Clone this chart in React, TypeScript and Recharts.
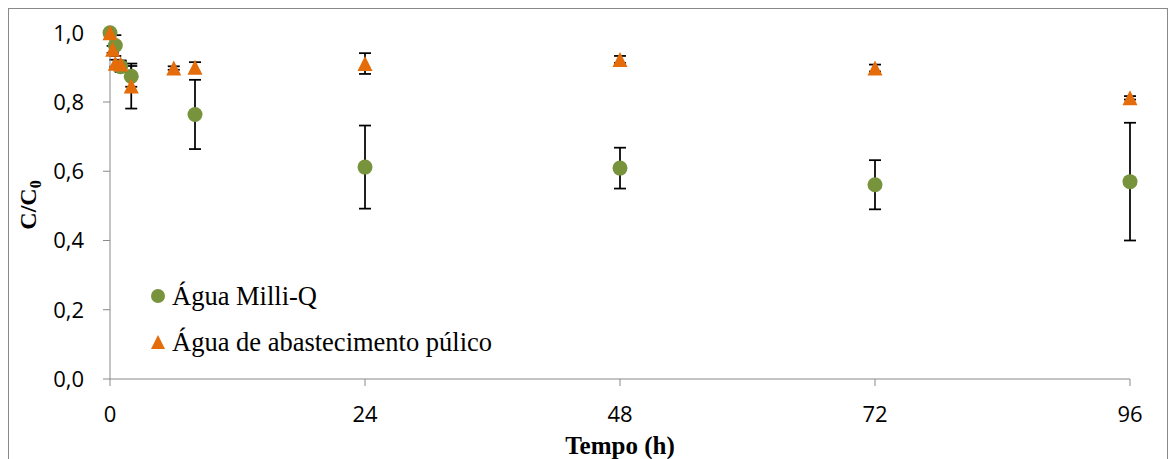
import { ErrorBar, Legend, Scatter, ScatterChart, XAxis, YAxis } from "recharts"

// Água Milli-Q
const tempoMilliQ = [0, 0.5, 1, 2, 8, 24, 48, 72, 96]
const cMilliQ = [1.0, 0.963, 0.902, 0.874, 0.764, 0.612, 0.609, 0.561, 0.57]
const errMilliQ = [0.005, 0.03, 0.015, 0.03, 0.1, 0.12, 0.059, 0.071, 0.17]

// Água de abastecimento público
const tempoAbast = [0, 0.25, 0.5, 1, 2, 6, 8, 24, 48, 72, 96]
const cAbast = [1.0, 0.952, 0.912, 0.91, 0.846, 0.898, 0.9, 0.911, 0.923, 0.898, 0.812]
const errAbast = [0.005, 0.01, 0.01, 0.01, 0.065, 0.005, 0.015, 0.03, 0.01, 0.01, 0.005]

const xTicks = [0, 24, 48, 72, 96]
const yTicks = [0, 0.2, 0.4, 0.6, 0.8, 1.0]

const seriesNames = ["Água Milli-Q", "Água de abastecimento púlico"]

const GREEN = "#77933C"
const ORANGE = "#E46C0A"
const AXIS = "#898989"
const TICK_FONT = "'Open Sans', sans-serif"
const SERIF = "'Liberation Serif', 'Times New Roman', serif"

const milliQ = tempoMilliQ.map((t, i) => ({ t, c: cMilliQ[i], err: errMilliQ[i] }))
const abast = tempoAbast.map((t, i) => ({ t, c: cAbast[i], err: errAbast[i] }))

function Circle(props: any) {
  const { cx, cy } = props
  if (cx == null || cy == null) return null
  return <circle cx={cx} cy={cy} r={7.5} fill={GREEN} />
}

function Triangle(props: any) {
  const { cx, cy } = props
  if (cx == null || cy == null) return null
  const w = 7.5, h = 7.5
  return <path d={`M${cx},${cy - h} L${cx + w},${cy + h} L${cx - w},${cy + h} Z`} fill={ORANGE} />
}

function LegendBox() {
  return (
    <div style={{ fontFamily: SERIF, fontSize: 26.5, color: "#000", whiteSpace: "nowrap" }}>
      <div style={{ display: "flex", alignItems: "center", height: 46 }}>
        <svg width={21} height={16}><circle cx={7} cy={8} r={7} fill={GREEN} /></svg>
        <span>{seriesNames[0]}</span>
      </div>
      <div style={{ display: "flex", alignItems: "center", height: 46 }}>
        <svg width={21} height={16}><path d="M7,1 L14,15 L0,15 Z" fill={ORANGE} /></svg>
        <span>{seriesNames[1]}</span>
      </div>
    </div>
  )
}

function YLabel() {
  return (
    <text x={27} y={196} transform="rotate(-90, 27, 196)" textAnchor="middle" fontFamily={SERIF} fontWeight="bold" fontSize={24} fill="#000">
      C/C<tspan fontSize={16} dy={5}>0</tspan>
    </text>
  )
}

function XLabel() {
  return (
    <text x={611} y={445} textAnchor="middle" fontFamily={SERIF} fontWeight="bold" fontSize={25} fill="#000">Tempo (h)</text>
  )
}

export default function App() {
  return (
    <div style={{ width: 1158, height: 450, border: `1px solid ${AXIS}`, background: "#fff" }}>
      <ScatterChart width={1158} height={450} margin={{ top: 22, right: 37, left: 0, bottom: 20 }}>
        <XAxis
          type="number"
          dataKey="t"
          domain={[0, 96]}
          ticks={xTicks}
          interval={0}
          stroke={AXIS}
          tickSize={7}
          tickMargin={20}
          height={60}
          tick={{ fill: "#000", fontSize: 22, fontFamily: TICK_FONT }}
          label={<XLabel />}
        />
        <YAxis
          type="number"
          dataKey="c"
          domain={[0, 1]}
          ticks={yTicks}
          interval={0}
          width={101}
          stroke={AXIS}
          tickSize={7}
          tickMargin={19}
          tickFormatter={(v: number) => v.toFixed(1).replace(".", ",")}
          tick={{ fill: "#000", fontSize: 22, fontFamily: TICK_FONT }}
          label={<YLabel />}
        />
        <Legend
          layout="horizontal"
          verticalAlign="middle"
          align="center"
          content={<LegendBox />}
          wrapperStyle={{ left: 142, top: 264, width: "auto" }}
        />
        <Scatter name={seriesNames[0]} data={milliQ} shape={<Circle />} isAnimationActive={false}>
          <ErrorBar dataKey="err" direction="y" width={6} stroke="#000" strokeWidth={1.75} />
        </Scatter>
        <Scatter name={seriesNames[1]} data={abast} shape={<Triangle />} isAnimationActive={false}>
          <ErrorBar dataKey="err" direction="y" width={6} stroke="#000" strokeWidth={1.75} />
        </Scatter>
      </ScatterChart>
    </div>
  )
}
